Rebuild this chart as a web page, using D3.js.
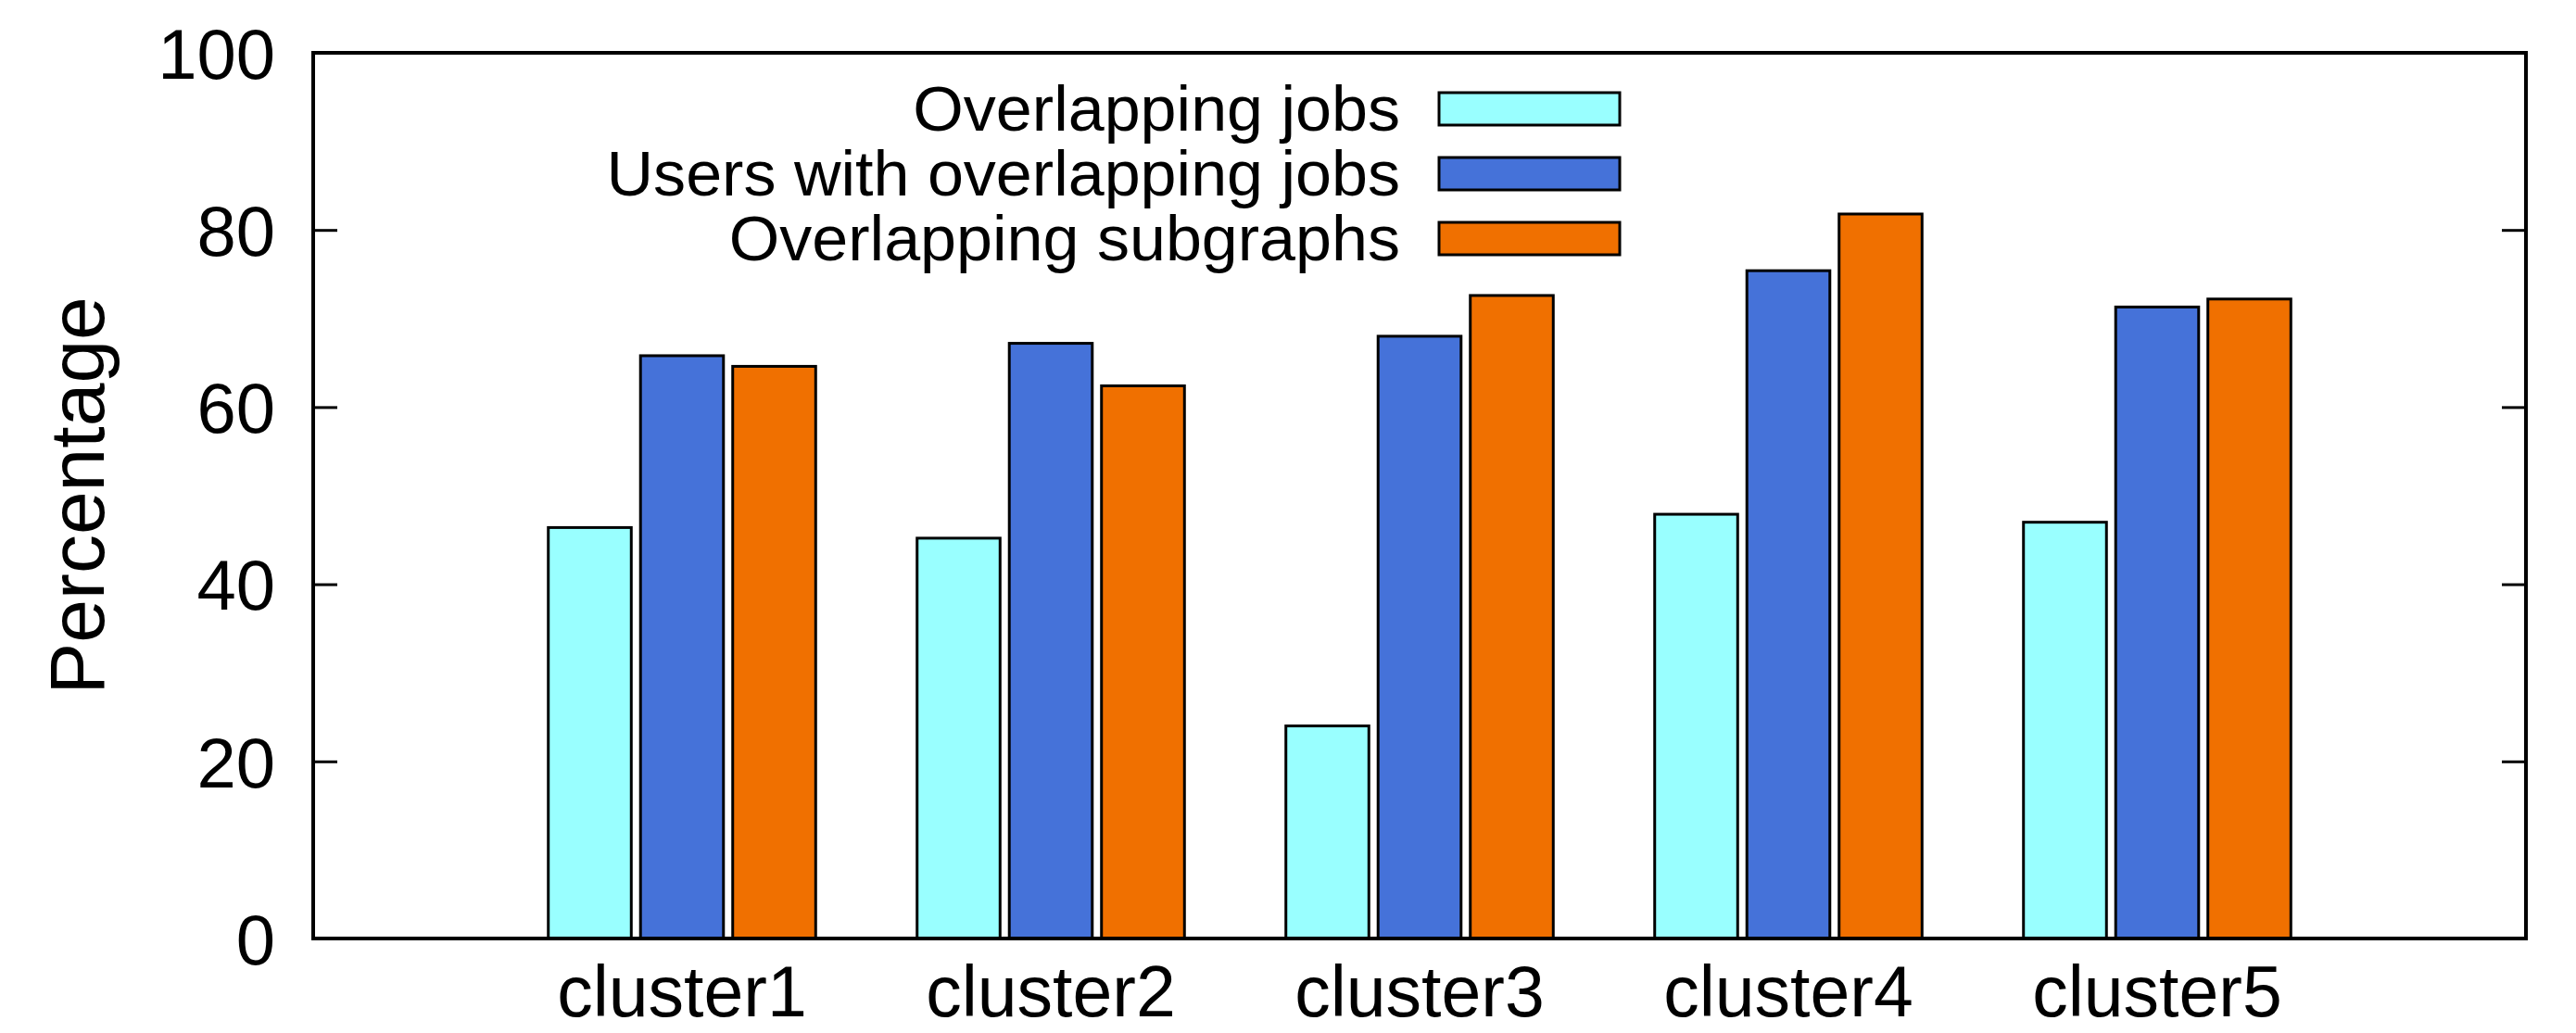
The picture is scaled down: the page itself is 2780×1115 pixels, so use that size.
<!DOCTYPE html>
<html>
<head>
<meta charset="utf-8">
<script src="https://cdn.jsdelivr.net/npm/d3@7"></script>
<style>
body { margin:0; background:#fff; }
text { font-family: "Liberation Sans", Arial, Helvetica, sans-serif; fill:#000; }
</style>
</head>
<body>
<script>
const width = 2780;
const height = 1115;
const margin = {top:57, right:54, bottom:102, left:338};

// data
const clusters = ["cluster1","cluster2","cluster3","cluster4","cluster5"];
const seriesNames = ["Overlapping jobs","Users with overlapping jobs","Overlapping subgraphs"];
const overlappingJobs = [46.4, 45.2, 24.0, 47.9, 47.0];
const usersWithOverlap = [65.8, 67.2, 68.0, 75.4, 71.3];
const overlappingSubgraphs = [64.6, 62.4, 72.6, 81.8, 72.2];
const colors = ["#99ffff","#4572d9","#f07000"];
const yTicks = [0,20,40,60,80,100];

const series = [overlappingJobs, usersWithOverlap, overlappingSubgraphs];

const svg = d3.select("body").append("svg")
.attr("width",width)
.attr("height",height);

svg.append("rect")
.attr("width",width)
.attr("height",height)
.attr("fill","white");

// gnuplot-like clustered histogram: cluster i sits at x=i, range -1..5
const x = d3.scaleLinear().domain([-1,5]).range([margin.left,width-margin.right]);
const y = d3.scaleLinear().domain([0,100]).range([height-margin.bottom,margin.top]);
const barW = 0.225;
const offsets = [-0.25,0,0.25];

const flat = series.flatMap((vals,s)=> vals.map((v,i)=>({s:s, i:i, value:v})));

svg.append("g").attr("class","bars")
.selectAll("rect")
.data(flat)
.join("rect")
.attr("x", d=> x(d.i + offsets[d.s] - barW/2))
.attr("width", d=> x(barW) - x(0))
.attr("y", d=> y(d.value))
.attr("height", d=> y(0) - y(d.value))
.attr("fill", d=> colors[d.s])
.attr("stroke","#000")
.attr("stroke-width",3);

// y axis left, ticks inward
const yAxisL = svg.append("g")
.attr("transform",`translate(${margin.left},0)`)
.call(d3.axisLeft(y).tickValues(yTicks).tickSize(-26).tickPadding(41).tickFormat(d3.format("d")));
yAxisL.select(".domain").remove();
yAxisL.selectAll("line").attr("stroke","#000").attr("stroke-width",3);
yAxisL.selectAll("text")
.style("font-family","'Liberation Sans', Arial, sans-serif")
.style("font-size","76px")
.attr("dy","0.36em");

// mirrored ticks on the right
const yAxisR = svg.append("g")
.attr("transform",`translate(${width-margin.right},0)`)
.call(d3.axisRight(y).tickValues(yTicks).tickSize(-26).tickFormat(""));
yAxisR.select(".domain").remove();
yAxisR.selectAll("line").attr("stroke","#000").attr("stroke-width",3);

// x labels
svg.append("g").selectAll("text")
.data(clusters)
.join("text")
.attr("x",(d,i)=> x(i))
.attr("y", 1097)
.attr("text-anchor","middle")
.style("font-size","77px")
.text(d=>d);

// frame
svg.append("rect")
.attr("x",margin.left)
.attr("y",margin.top)
.attr("width",width-margin.right-margin.left)
.attr("height",height-margin.bottom-margin.top)
.attr("fill","none")
.attr("stroke","#000")
.attr("stroke-width",4);

// y label
svg.append("text")
.attr("transform",`translate(112,${(y(0)+y(100))/2}) rotate(-90)`)
.attr("text-anchor","middle")
.style("font-size","84px")
.text("Percentage");

// legend
const legendRows = [117,187,257];
const legend = svg.append("g").attr("class","legend");
legend.selectAll("text")
.data(seriesNames)
.join("text")
.attr("x",1511)
.attr("y",(d,i)=> legendRows[i])
.attr("dy","0.35em")
.attr("text-anchor","end")
.style("font-size","68px")
.text(d=>d)
.each(function(){
    // match the reference line widths
    const w = this.getComputedTextLength();
    d3.select(this).attr("textLength", w*1.03).attr("lengthAdjust","spacingAndGlyphs");
});

legend.selectAll("rect")
.data(seriesNames)
.join("rect")
.attr("x",1553)
.attr("y",(d,i)=> legendRows[i]-17)
.attr("width",195)
.attr("height",35)
.attr("fill",(d,i)=> colors[i])
.attr("stroke","#000")
.attr("stroke-width",3);
</script>
</body>
</html>
